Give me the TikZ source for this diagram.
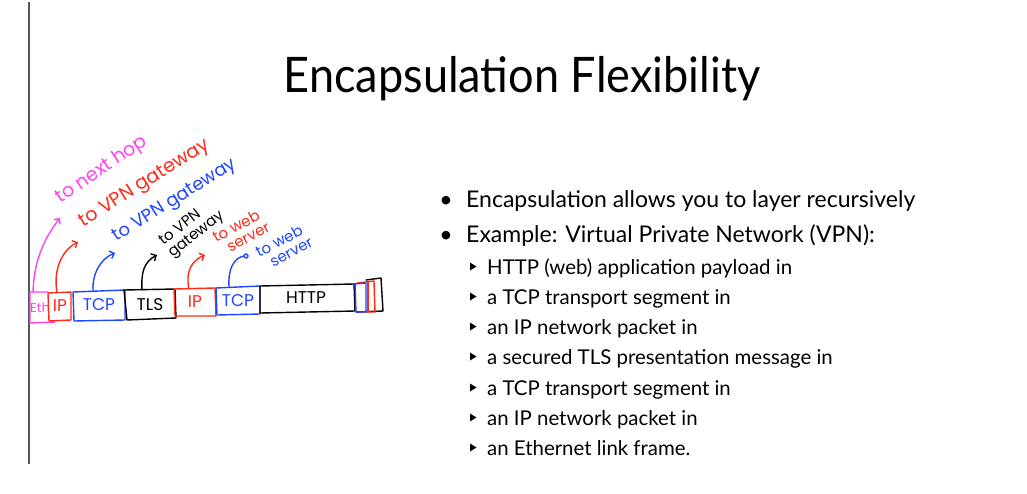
\documentclass[tikz,border=0pt]{standalone}
\usepackage{fontspec}
\setmainfont{Lato}
\newfontfamily\handfont{Poppins}
\usetikzlibrary{arrows.meta}
\definecolor{penpink}{HTML}{FF44EE}
\definecolor{penred}{HTML}{FF2A1A}
\definecolor{penblue}{HTML}{1E46FF}
\definecolor{rulegray}{HTML}{555555}
\begin{document}
\begin{tikzpicture}[x=1pt,y=-1pt,
  pen/.style={line width=1.4pt,line join=round,line cap=round},
  penarrow/.style={pen,-{Straight Barb[length=4pt,width=8pt,line width=1.4pt]}},
  hand/.style={font=\handfont\fontsize{#1}{#1}\selectfont,inner sep=0pt,align=left},
  boxlabel/.style={font=\handfont\fontsize{17}{17}\selectfont,inner sep=0pt},
  bodytext/.style={anchor=base west,inner sep=0pt,font=\fontsize{#1}{#1}\selectfont}
]
\useasboundingbox (0,0) rectangle (1027,493);
\fill[white] (0,0) rectangle (1027,493);

% left rule
\draw[rulegray,line width=1.3pt] (29,2) -- (29,464);

% title
\node[anchor=base,inner sep=0pt,font=\fontsize{49}{49}\selectfont] (title) at (522,92)
  {\scalebox{0.92}[1]{Encapsulation Flexibility}};

% bullet list
\node[anchor=base,inner sep=0pt,font=\fontsize{23}{23}\selectfont] (b1dot) at (446,207) {•};
\node[bodytext=23] (b1) at (466,207) {Encapsulation allows you to layer recursively};
\node[anchor=base,inner sep=0pt,font=\fontsize{23}{23}\selectfont] (b2dot) at (446,242) {•};
\node[bodytext=23] (b2) at (466,242) {Example: Virtual Private Network (VPN):};

\foreach \y/\t [count=\i] in {274/HTTP (web) application payload in,
  304/a TCP transport segment in,
  334/an IP network packet in,
  364/a secured TLS presentation message in,
  395/a TCP transport segment in,
  425/an IP network packet in,
  455/an Ethernet link frame.}{
  \fill (470,\y-11.5) -- (476.5,\y-7.5) -- (470,\y-3.5) -- cycle;
  \node[bodytext=20.4] (s\i) at (487,\y) {\t};
}

% ---- hand-drawn packet strip ----
% Ethernet header
\draw[pen,penpink] (48,292) -- (30,292) -- (30,323) -- (55,322);
\node[boxlabel,penpink,font=\handfont\fontsize{13}{13}\selectfont] (eth) at (40,308) {Eth};
% outer IP header
\draw[pen,penred] (48,293) -- (71,292) -- (71,320) -- (49,321) -- cycle;
\node[boxlabel,penred] (ip1) at (60,306) {IP};
% outer TCP header
\draw[pen,penblue] (73,292) -- (125,290) -- (125,320) -- (74,321) -- cycle;
\node[boxlabel,penblue] (tcp1) at (99,305) {TCP};
% TLS
\draw[pen,black] (124,290) -- (175,289) -- (176,318) -- (127,320) -- cycle;
\node[boxlabel,black] (tls) at (150,305) {TLS};
% inner IP header
\draw[pen,penred] (174,289) -- (215,288) -- (216,316) -- (175,316) -- cycle;
\node[boxlabel,penred] (ip2) at (195,302) {IP};
% inner TCP header
\draw[pen,penblue] (216,288) -- (260,286) -- (260,314) -- (217,315) -- cycle;
\node[boxlabel,penblue] (tcp2) at (238,301) {TCP};
% HTTP payload
\draw[pen,black] (260,286) -- (354,284) -- (355,311) -- (260,313) -- cycle;
\node[boxlabel,black] (http) at (306,298) {HTTP};
% trailers
\draw[pen,black] (366,280) -- (381,278) -- (383,311) -- (356,312);
\draw[pen,penred] (357,283) -- (374,281) -- (375,312) -- (358,312);
\draw[pen,penred] (368,282) -- (368,312);
\draw[pen,penblue] (354,284) -- (366,283) -- (366,312) -- (356,312) -- (355,284);

% arrow roots on the headers
\coordinate (ethtop) at (33,292);
\coordinate (ip1top) at (57,292);
\coordinate (tcp1top) at (93,291);
\coordinate (tlstop) at (142,290);
\coordinate (ip2top) at (189,289);
\coordinate (tcp2top) at (229,287);
% arrow ends
\coordinate (ethend) at (60,218);
\coordinate (ip1end) at (78,242);
\coordinate (tcp1end) at (115,253);
\coordinate (tlsend) at (157,255);
\coordinate (ip2end) at (205,255);
\coordinate (tcp2end) at (244,256);

\draw[penarrow,penpink] (ethtop) .. controls (34,258) and (46,236) .. (ethend);
\draw[penarrow,penred] (ip1top) .. controls (53,270) and (62,250) .. (ip1end);
\draw[penarrow,penblue] (tcp1top) .. controls (92,272) and (102,258) .. (tcp1end);
\draw[penarrow,black] (tlstop) .. controls (141,272) and (144,262) .. (tlsend);
\draw[penarrow,penred] (ip2top) .. controls (185,270) and (193,260) .. (ip2end);
\draw[pen,penblue] (tcp2top) .. controls (228,268) and (234,258) .. (tcp2end);
\draw[pen,penblue] (246,256) circle (2);

% destinations
\node[hand=19,penpink,rotate=34] (lnext) at (102,170) {to next hop};
\node[hand=19,penred,rotate=32] (lvpn1) at (145,184) {to VPN gateway};
\node[hand=18,penblue,rotate=32] (lvpn2) at (175,201) {to VPN gateway};
\node[hand=15,black,rotate=38] (lvpn3) at (192,229) {to VPN\\gateway};
\node[hand=15,penred,rotate=28] (lweb1) at (241,232) {to web\\\ \ server};
\node[hand=15,penblue,rotate=28] (lweb2) at (284,247) {to web\\\ \ server};
\end{tikzpicture}
\end{document}
